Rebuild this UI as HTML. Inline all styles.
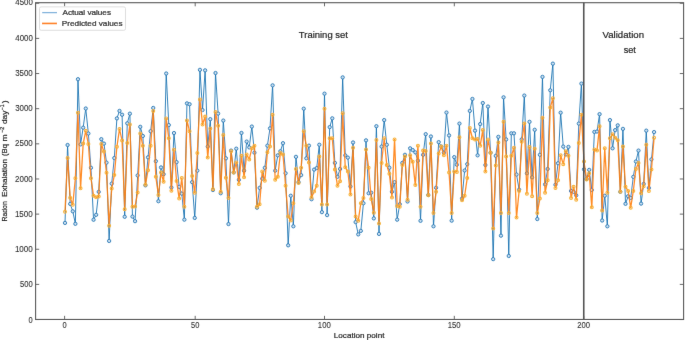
<!DOCTYPE html>
<html><head><meta charset="utf-8"><style>
html,body{margin:0;padding:0;background:#fff;width:685px;height:340px;overflow:hidden}
svg{display:block;will-change:transform}
text{font-family:"Liberation Sans", sans-serif;fill:#262626;stroke:#262626;stroke-width:0.2px}
.tk{fill:#333;stroke:#333;stroke-width:0.1px}
.lg{stroke-width:0.24px}
</style></head><body>
<svg width="685" height="340" viewBox="0 0 685 340">
<defs><filter id="bl" x="-5%" y="-5%" width="110%" height="110%"><feConvolveMatrix order="3" kernelMatrix="0.0028 0.0470 0.0028 0.0470 0.8008 0.0470 0.0028 0.0470 0.0028" edgeMode="none"/></filter></defs>
<rect x="0" y="0" width="685" height="340" fill="#fff"/>
<g filter="url(#bl)">
<path d="M65.00,222.92 L67.59,145.01 L70.19,203.90 L72.78,211.30 L75.38,223.83 L77.97,79.21 L80.57,144.44 L83.17,127.68 L85.76,108.52 L88.36,133.52 L90.95,167.76 L93.55,219.75 L96.14,214.82 L98.73,191.85 L101.33,139.16 L103.93,143.60 L106.52,162.62 L109.12,240.95 L111.71,183.61 L114.31,158.04 L116.90,118.38 L119.50,110.91 L122.09,114.72 L124.69,216.79 L127.28,123.31 L129.88,113.66 L132.47,216.58 L135.06,221.16 L137.66,175.44 L140.25,126.83 L142.85,135.99 L145.44,185.37 L148.04,157.33 L150.63,131.20 L153.23,107.95 L155.82,161.21 L158.42,201.22 L161.01,167.41 L163.61,174.24 L166.21,73.51 L168.80,125.07 L171.40,187.48 L173.99,133.03 L176.59,162.12 L179.18,186.85 L181.78,193.61 L184.37,219.68 L186.97,103.37 L189.56,104.22 L192.16,182.13 L194.75,217.92 L197.34,170.65 L199.94,69.84 L202.53,110.07 L205.13,70.34 L207.73,146.56 L210.32,119.15 L212.92,190.02 L215.51,73.01 L218.11,113.59 L220.70,193.26 L223.30,120.56 L225.89,158.32 L228.49,224.05 L231.08,150.57 L233.68,172.41 L236.27,148.67 L238.87,179.81 L241.46,132.96 L244.06,170.65 L246.65,141.56 L249.25,147.40 L251.84,126.55 L254.44,152.69 L257.03,207.70 L259.62,187.91 L262.22,178.61 L264.82,167.83 L267.41,145.64 L270.00,128.38 L272.60,85.34 L275.20,170.65 L277.79,155.36 L280.38,151.28 L282.98,143.18 L285.58,173.26 L288.17,245.32 L290.76,195.73 L293.36,226.30 L295.96,156.84 L298.55,182.13 L301.14,175.09 L303.74,108.66 L306.34,158.32 L308.93,145.64 L311.52,199.25 L314.12,169.59 L316.72,168.11 L319.31,144.73 L321.91,212.14 L324.50,93.65 L327.10,215.10 L329.69,127.11 L332.29,118.31 L334.88,162.90 L337.48,176.85 L340.07,168.96 L342.67,77.38 L345.26,155.36 L347.86,157.62 L350.45,186.50 L353.05,142.47 L355.64,222.07 L358.24,234.40 L360.83,230.88 L363.43,203.26 L366.02,140.36 L368.62,193.26 L371.21,192.70 L373.81,218.41 L376.40,126.20 L379.00,233.91 L381.59,146.56 L384.19,120.07 L386.78,144.73 L389.38,167.69 L391.97,191.78 L394.56,182.13 L397.16,219.68 L399.76,204.18 L402.35,162.90 L404.95,154.80 L407.54,201.50 L410.14,148.32 L412.73,150.08 L415.33,152.33 L417.92,160.65 L420.52,220.81 L423.11,154.80 L425.71,134.16 L428.30,195.02 L430.90,136.48 L433.49,226.30 L436.09,187.77 L438.68,142.12 L441.28,146.56 L443.87,152.69 L446.47,112.53 L449.06,135.43 L451.66,220.66 L454.25,157.12 L456.85,164.73 L459.44,123.59 L462.04,198.54 L464.63,170.51 L467.23,164.17 L469.82,110.91 L472.42,98.94 L475.01,130.64 L477.61,155.36 L480.20,124.08 L482.80,103.02 L485.39,165.01 L487.99,106.54 L490.58,152.69 L493.18,259.13 L495.77,155.86 L498.37,136.84 L500.96,235.67 L503.56,97.32 L506.15,139.44 L508.75,255.96 L511.34,133.31 L513.94,133.31 L516.53,174.52 L519.12,189.67 L521.72,139.44 L524.32,95.55 L526.91,173.33 L529.51,121.83 L532.10,177.34 L534.70,129.79 L537.29,219.04 L539.88,154.80 L542.48,76.89 L545.08,184.39 L547.67,168.96 L550.27,90.27 L552.86,63.64 L555.46,184.74 L558.05,163.25 L560.64,112.67 L563.24,146.56 L565.84,154.45 L568.43,146.91 L571.03,190.94 L573.62,191.85 L576.22,195.37 L578.81,123.59 L581.41,83.58 L584.00,169.31 L586.60,178.96 L589.19,169.87 L591.79,190.02 L594.38,131.90 L596.98,131.55 L599.57,114.15 L602.17,220.52 L604.76,195.73 L607.36,226.30 L609.95,120.07 L612.55,148.32 L615.14,130.14 L617.74,125.35 L620.33,191.78 L622.93,128.88 L625.52,203.83 L628.12,196.22 L630.71,197.98 L633.31,176.85 L635.90,161.49 L638.50,150.57 L641.09,203.62 L643.69,183.89 L646.28,130.64 L648.88,187.91 L651.47,159.38 L654.07,132.05" fill="none" stroke="#1f77b4" stroke-width="1.0" stroke-linejoin="round" opacity="0.9"/>
<g fill="#c6ddef" stroke="#2277b4" stroke-width="0.9"><circle cx="65.00" cy="222.92" r="1.65"/><circle cx="67.59" cy="145.01" r="1.65"/><circle cx="70.19" cy="203.90" r="1.65"/><circle cx="72.78" cy="211.30" r="1.65"/><circle cx="75.38" cy="223.83" r="1.65"/><circle cx="77.97" cy="79.21" r="1.65"/><circle cx="80.57" cy="144.44" r="1.65"/><circle cx="83.17" cy="127.68" r="1.65"/><circle cx="85.76" cy="108.52" r="1.65"/><circle cx="88.36" cy="133.52" r="1.65"/><circle cx="90.95" cy="167.76" r="1.65"/><circle cx="93.55" cy="219.75" r="1.65"/><circle cx="96.14" cy="214.82" r="1.65"/><circle cx="98.73" cy="191.85" r="1.65"/><circle cx="101.33" cy="139.16" r="1.65"/><circle cx="103.93" cy="143.60" r="1.65"/><circle cx="106.52" cy="162.62" r="1.65"/><circle cx="109.12" cy="240.95" r="1.65"/><circle cx="111.71" cy="183.61" r="1.65"/><circle cx="114.31" cy="158.04" r="1.65"/><circle cx="116.90" cy="118.38" r="1.65"/><circle cx="119.50" cy="110.91" r="1.65"/><circle cx="122.09" cy="114.72" r="1.65"/><circle cx="124.69" cy="216.79" r="1.65"/><circle cx="127.28" cy="123.31" r="1.65"/><circle cx="129.88" cy="113.66" r="1.65"/><circle cx="132.47" cy="216.58" r="1.65"/><circle cx="135.06" cy="221.16" r="1.65"/><circle cx="137.66" cy="175.44" r="1.65"/><circle cx="140.25" cy="126.83" r="1.65"/><circle cx="142.85" cy="135.99" r="1.65"/><circle cx="145.44" cy="185.37" r="1.65"/><circle cx="148.04" cy="157.33" r="1.65"/><circle cx="150.63" cy="131.20" r="1.65"/><circle cx="153.23" cy="107.95" r="1.65"/><circle cx="155.82" cy="161.21" r="1.65"/><circle cx="158.42" cy="201.22" r="1.65"/><circle cx="161.01" cy="167.41" r="1.65"/><circle cx="163.61" cy="174.24" r="1.65"/><circle cx="166.21" cy="73.51" r="1.65"/><circle cx="168.80" cy="125.07" r="1.65"/><circle cx="171.40" cy="187.48" r="1.65"/><circle cx="173.99" cy="133.03" r="1.65"/><circle cx="176.59" cy="162.12" r="1.65"/><circle cx="179.18" cy="186.85" r="1.65"/><circle cx="181.78" cy="193.61" r="1.65"/><circle cx="184.37" cy="219.68" r="1.65"/><circle cx="186.97" cy="103.37" r="1.65"/><circle cx="189.56" cy="104.22" r="1.65"/><circle cx="192.16" cy="182.13" r="1.65"/><circle cx="194.75" cy="217.92" r="1.65"/><circle cx="197.34" cy="170.65" r="1.65"/><circle cx="199.94" cy="69.84" r="1.65"/><circle cx="202.53" cy="110.07" r="1.65"/><circle cx="205.13" cy="70.34" r="1.65"/><circle cx="207.73" cy="146.56" r="1.65"/><circle cx="210.32" cy="119.15" r="1.65"/><circle cx="212.92" cy="190.02" r="1.65"/><circle cx="215.51" cy="73.01" r="1.65"/><circle cx="218.11" cy="113.59" r="1.65"/><circle cx="220.70" cy="193.26" r="1.65"/><circle cx="223.30" cy="120.56" r="1.65"/><circle cx="225.89" cy="158.32" r="1.65"/><circle cx="228.49" cy="224.05" r="1.65"/><circle cx="231.08" cy="150.57" r="1.65"/><circle cx="233.68" cy="172.41" r="1.65"/><circle cx="236.27" cy="148.67" r="1.65"/><circle cx="238.87" cy="179.81" r="1.65"/><circle cx="241.46" cy="132.96" r="1.65"/><circle cx="244.06" cy="170.65" r="1.65"/><circle cx="246.65" cy="141.56" r="1.65"/><circle cx="249.25" cy="147.40" r="1.65"/><circle cx="251.84" cy="126.55" r="1.65"/><circle cx="254.44" cy="152.69" r="1.65"/><circle cx="257.03" cy="207.70" r="1.65"/><circle cx="259.62" cy="187.91" r="1.65"/><circle cx="262.22" cy="178.61" r="1.65"/><circle cx="264.82" cy="167.83" r="1.65"/><circle cx="267.41" cy="145.64" r="1.65"/><circle cx="270.00" cy="128.38" r="1.65"/><circle cx="272.60" cy="85.34" r="1.65"/><circle cx="275.20" cy="170.65" r="1.65"/><circle cx="277.79" cy="155.36" r="1.65"/><circle cx="280.38" cy="151.28" r="1.65"/><circle cx="282.98" cy="143.18" r="1.65"/><circle cx="285.58" cy="173.26" r="1.65"/><circle cx="288.17" cy="245.32" r="1.65"/><circle cx="290.76" cy="195.73" r="1.65"/><circle cx="293.36" cy="226.30" r="1.65"/><circle cx="295.96" cy="156.84" r="1.65"/><circle cx="298.55" cy="182.13" r="1.65"/><circle cx="301.14" cy="175.09" r="1.65"/><circle cx="303.74" cy="108.66" r="1.65"/><circle cx="306.34" cy="158.32" r="1.65"/><circle cx="308.93" cy="145.64" r="1.65"/><circle cx="311.52" cy="199.25" r="1.65"/><circle cx="314.12" cy="169.59" r="1.65"/><circle cx="316.72" cy="168.11" r="1.65"/><circle cx="319.31" cy="144.73" r="1.65"/><circle cx="321.91" cy="212.14" r="1.65"/><circle cx="324.50" cy="93.65" r="1.65"/><circle cx="327.10" cy="215.10" r="1.65"/><circle cx="329.69" cy="127.11" r="1.65"/><circle cx="332.29" cy="118.31" r="1.65"/><circle cx="334.88" cy="162.90" r="1.65"/><circle cx="337.48" cy="176.85" r="1.65"/><circle cx="340.07" cy="168.96" r="1.65"/><circle cx="342.67" cy="77.38" r="1.65"/><circle cx="345.26" cy="155.36" r="1.65"/><circle cx="347.86" cy="157.62" r="1.65"/><circle cx="350.45" cy="186.50" r="1.65"/><circle cx="353.05" cy="142.47" r="1.65"/><circle cx="355.64" cy="222.07" r="1.65"/><circle cx="358.24" cy="234.40" r="1.65"/><circle cx="360.83" cy="230.88" r="1.65"/><circle cx="363.43" cy="203.26" r="1.65"/><circle cx="366.02" cy="140.36" r="1.65"/><circle cx="368.62" cy="193.26" r="1.65"/><circle cx="371.21" cy="192.70" r="1.65"/><circle cx="373.81" cy="218.41" r="1.65"/><circle cx="376.40" cy="126.20" r="1.65"/><circle cx="379.00" cy="233.91" r="1.65"/><circle cx="381.59" cy="146.56" r="1.65"/><circle cx="384.19" cy="120.07" r="1.65"/><circle cx="386.78" cy="144.73" r="1.65"/><circle cx="389.38" cy="167.69" r="1.65"/><circle cx="391.97" cy="191.78" r="1.65"/><circle cx="394.56" cy="182.13" r="1.65"/><circle cx="397.16" cy="219.68" r="1.65"/><circle cx="399.76" cy="204.18" r="1.65"/><circle cx="402.35" cy="162.90" r="1.65"/><circle cx="404.95" cy="154.80" r="1.65"/><circle cx="407.54" cy="201.50" r="1.65"/><circle cx="410.14" cy="148.32" r="1.65"/><circle cx="412.73" cy="150.08" r="1.65"/><circle cx="415.33" cy="152.33" r="1.65"/><circle cx="417.92" cy="160.65" r="1.65"/><circle cx="420.52" cy="220.81" r="1.65"/><circle cx="423.11" cy="154.80" r="1.65"/><circle cx="425.71" cy="134.16" r="1.65"/><circle cx="428.30" cy="195.02" r="1.65"/><circle cx="430.90" cy="136.48" r="1.65"/><circle cx="433.49" cy="226.30" r="1.65"/><circle cx="436.09" cy="187.77" r="1.65"/><circle cx="438.68" cy="142.12" r="1.65"/><circle cx="441.28" cy="146.56" r="1.65"/><circle cx="443.87" cy="152.69" r="1.65"/><circle cx="446.47" cy="112.53" r="1.65"/><circle cx="449.06" cy="135.43" r="1.65"/><circle cx="451.66" cy="220.66" r="1.65"/><circle cx="454.25" cy="157.12" r="1.65"/><circle cx="456.85" cy="164.73" r="1.65"/><circle cx="459.44" cy="123.59" r="1.65"/><circle cx="462.04" cy="198.54" r="1.65"/><circle cx="464.63" cy="170.51" r="1.65"/><circle cx="467.23" cy="164.17" r="1.65"/><circle cx="469.82" cy="110.91" r="1.65"/><circle cx="472.42" cy="98.94" r="1.65"/><circle cx="475.01" cy="130.64" r="1.65"/><circle cx="477.61" cy="155.36" r="1.65"/><circle cx="480.20" cy="124.08" r="1.65"/><circle cx="482.80" cy="103.02" r="1.65"/><circle cx="485.39" cy="165.01" r="1.65"/><circle cx="487.99" cy="106.54" r="1.65"/><circle cx="490.58" cy="152.69" r="1.65"/><circle cx="493.18" cy="259.13" r="1.65"/><circle cx="495.77" cy="155.86" r="1.65"/><circle cx="498.37" cy="136.84" r="1.65"/><circle cx="500.96" cy="235.67" r="1.65"/><circle cx="503.56" cy="97.32" r="1.65"/><circle cx="506.15" cy="139.44" r="1.65"/><circle cx="508.75" cy="255.96" r="1.65"/><circle cx="511.34" cy="133.31" r="1.65"/><circle cx="513.94" cy="133.31" r="1.65"/><circle cx="516.53" cy="174.52" r="1.65"/><circle cx="519.12" cy="189.67" r="1.65"/><circle cx="521.72" cy="139.44" r="1.65"/><circle cx="524.32" cy="95.55" r="1.65"/><circle cx="526.91" cy="173.33" r="1.65"/><circle cx="529.51" cy="121.83" r="1.65"/><circle cx="532.10" cy="177.34" r="1.65"/><circle cx="534.70" cy="129.79" r="1.65"/><circle cx="537.29" cy="219.04" r="1.65"/><circle cx="539.88" cy="154.80" r="1.65"/><circle cx="542.48" cy="76.89" r="1.65"/><circle cx="545.08" cy="184.39" r="1.65"/><circle cx="547.67" cy="168.96" r="1.65"/><circle cx="550.27" cy="90.27" r="1.65"/><circle cx="552.86" cy="63.64" r="1.65"/><circle cx="555.46" cy="184.74" r="1.65"/><circle cx="558.05" cy="163.25" r="1.65"/><circle cx="560.64" cy="112.67" r="1.65"/><circle cx="563.24" cy="146.56" r="1.65"/><circle cx="565.84" cy="154.45" r="1.65"/><circle cx="568.43" cy="146.91" r="1.65"/><circle cx="571.03" cy="190.94" r="1.65"/><circle cx="573.62" cy="191.85" r="1.65"/><circle cx="576.22" cy="195.37" r="1.65"/><circle cx="578.81" cy="123.59" r="1.65"/><circle cx="581.41" cy="83.58" r="1.65"/><circle cx="584.00" cy="169.31" r="1.65"/><circle cx="586.60" cy="178.96" r="1.65"/><circle cx="589.19" cy="169.87" r="1.65"/><circle cx="591.79" cy="190.02" r="1.65"/><circle cx="594.38" cy="131.90" r="1.65"/><circle cx="596.98" cy="131.55" r="1.65"/><circle cx="599.57" cy="114.15" r="1.65"/><circle cx="602.17" cy="220.52" r="1.65"/><circle cx="604.76" cy="195.73" r="1.65"/><circle cx="607.36" cy="226.30" r="1.65"/><circle cx="609.95" cy="120.07" r="1.65"/><circle cx="612.55" cy="148.32" r="1.65"/><circle cx="615.14" cy="130.14" r="1.65"/><circle cx="617.74" cy="125.35" r="1.65"/><circle cx="620.33" cy="191.78" r="1.65"/><circle cx="622.93" cy="128.88" r="1.65"/><circle cx="625.52" cy="203.83" r="1.65"/><circle cx="628.12" cy="196.22" r="1.65"/><circle cx="630.71" cy="197.98" r="1.65"/><circle cx="633.31" cy="176.85" r="1.65"/><circle cx="635.90" cy="161.49" r="1.65"/><circle cx="638.50" cy="150.57" r="1.65"/><circle cx="641.09" cy="203.62" r="1.65"/><circle cx="643.69" cy="183.89" r="1.65"/><circle cx="646.28" cy="130.64" r="1.65"/><circle cx="648.88" cy="187.91" r="1.65"/><circle cx="651.47" cy="159.38" r="1.65"/><circle cx="654.07" cy="132.05" r="1.65"/></g>
<path d="M65.00,211.72 L67.59,158.04 L70.19,197.70 L72.78,204.74 L75.38,178.26 L77.97,112.74 L80.57,188.33 L83.17,143.60 L85.76,130.85 L88.36,143.95 L90.95,178.26 L93.55,195.87 L96.14,197.28 L98.73,196.57 L101.33,143.95 L103.93,151.56 L106.52,172.83 L109.12,225.81 L111.71,188.54 L114.31,175.09 L116.90,146.77 L119.50,129.09 L122.09,140.43 L124.69,209.18 L127.28,143.03 L129.88,124.51 L132.47,206.86 L135.06,206.50 L137.66,192.42 L140.25,133.38 L142.85,145.71 L145.44,184.81 L148.04,170.23 L150.63,145.71 L153.23,111.12 L155.82,176.85 L158.42,195.02 L161.01,172.62 L163.61,181.85 L166.21,118.52 L168.80,138.31 L171.40,190.65 L173.99,149.73 L176.59,180.93 L179.18,198.54 L181.78,178.05 L184.37,206.79 L186.97,120.42 L189.56,131.20 L192.16,175.93 L194.75,192.70 L197.34,153.04 L199.94,99.50 L202.53,124.44 L205.13,116.55 L207.73,157.62 L210.32,128.38 L212.92,189.18 L215.51,112.04 L218.11,125.85 L220.70,191.85 L223.30,135.07 L225.89,177.69 L228.49,197.98 L231.08,151.28 L233.68,172.41 L236.27,162.41 L238.87,183.89 L241.46,155.86 L244.06,177.34 L246.65,154.45 L249.25,159.38 L251.84,148.32 L254.44,145.64 L257.03,206.79 L259.62,204.18 L262.22,171.49 L264.82,180.86 L267.41,152.33 L270.00,146.56 L272.60,114.79 L275.20,179.81 L277.79,176.85 L280.38,153.04 L282.98,154.45 L285.58,185.65 L288.17,216.51 L290.76,220.38 L293.36,203.26 L295.96,169.10 L298.55,182.98 L301.14,167.69 L303.74,131.20 L306.34,145.64 L308.93,162.41 L311.52,197.49 L314.12,191.50 L316.72,185.65 L319.31,156.56 L321.91,204.53 L324.50,108.80 L327.10,204.53 L329.69,138.24 L332.29,138.24 L334.88,169.45 L337.48,185.65 L340.07,181.22 L342.67,113.24 L345.26,167.34 L347.86,171.49 L350.45,194.46 L353.05,147.75 L355.64,216.51 L358.24,220.81 L360.83,203.26 L363.43,197.98 L366.02,149.52 L368.62,167.69 L371.21,198.90 L373.81,212.63 L376.40,140.01 L379.00,223.41 L381.59,162.90 L384.19,138.24 L386.78,165.01 L389.38,173.82 L391.97,197.49 L394.56,139.44 L397.16,205.94 L399.76,206.79 L402.35,165.01 L404.95,156.56 L407.54,199.74 L410.14,155.36 L412.73,161.84 L415.33,185.09 L417.92,145.64 L420.52,206.79 L423.11,150.57 L425.71,150.92 L428.30,195.37 L430.90,143.53 L433.49,212.99 L436.09,191.85 L438.68,153.60 L441.28,146.56 L443.87,155.36 L446.47,145.64 L449.06,172.41 L451.66,212.99 L454.25,171.49 L456.85,171.92 L459.44,137.19 L462.04,200.31 L464.63,195.73 L467.23,178.05 L469.82,127.96 L472.42,138.24 L475.01,139.44 L477.61,138.95 L480.20,145.64 L482.80,130.07 L485.39,171.49 L487.99,139.44 L490.58,152.69 L493.18,228.55 L495.77,165.44 L498.37,142.47 L500.96,212.99 L503.56,121.83 L506.15,156.56 L508.75,212.99 L511.34,155.86 L513.94,147.75 L516.53,217.42 L519.12,190.94 L521.72,141.77 L524.32,123.59 L526.91,193.75 L529.51,147.05 L532.10,196.22 L534.70,148.81 L537.29,212.99 L539.88,198.54 L542.48,117.74 L545.08,192.70 L547.67,180.37 L550.27,107.39 L552.86,98.23 L555.46,187.91 L558.05,180.37 L560.64,155.36 L563.24,164.17 L565.84,151.28 L568.43,155.86 L571.03,197.98 L573.62,186.85 L576.22,199.74 L578.81,142.96 L581.41,114.65 L584.00,161.49 L586.60,179.45 L589.19,173.33 L591.79,207.35 L594.38,149.52 L596.98,150.57 L599.57,126.20 L602.17,210.38 L604.76,148.32 L607.36,192.70 L609.95,138.24 L612.55,134.16 L615.14,137.68 L617.74,140.36 L620.33,191.78 L622.93,146.56 L625.52,186.85 L628.12,190.94 L630.71,207.70 L633.31,190.94 L635.90,168.89 L638.50,162.90 L641.09,193.26 L643.69,186.15 L646.28,144.73 L648.88,190.94 L651.47,169.45 L654.07,137.68" fill="none" stroke="#ff7f0e" stroke-width="1.3" stroke-linejoin="round" opacity="0.9"/>
<g fill="none" stroke="#f6b032" stroke-width="1.1" opacity="0.95"><circle cx="65.00" cy="211.72" r="1.45"/><circle cx="67.59" cy="158.04" r="1.45"/><circle cx="70.19" cy="197.70" r="1.45"/><circle cx="72.78" cy="204.74" r="1.45"/><circle cx="75.38" cy="178.26" r="1.45"/><circle cx="77.97" cy="112.74" r="1.45"/><circle cx="80.57" cy="188.33" r="1.45"/><circle cx="83.17" cy="143.60" r="1.45"/><circle cx="85.76" cy="130.85" r="1.45"/><circle cx="88.36" cy="143.95" r="1.45"/><circle cx="90.95" cy="178.26" r="1.45"/><circle cx="93.55" cy="195.87" r="1.45"/><circle cx="96.14" cy="197.28" r="1.45"/><circle cx="98.73" cy="196.57" r="1.45"/><circle cx="101.33" cy="143.95" r="1.45"/><circle cx="103.93" cy="151.56" r="1.45"/><circle cx="106.52" cy="172.83" r="1.45"/><circle cx="109.12" cy="225.81" r="1.45"/><circle cx="111.71" cy="188.54" r="1.45"/><circle cx="114.31" cy="175.09" r="1.45"/><circle cx="116.90" cy="146.77" r="1.45"/><circle cx="119.50" cy="129.09" r="1.45"/><circle cx="122.09" cy="140.43" r="1.45"/><circle cx="124.69" cy="209.18" r="1.45"/><circle cx="127.28" cy="143.03" r="1.45"/><circle cx="129.88" cy="124.51" r="1.45"/><circle cx="132.47" cy="206.86" r="1.45"/><circle cx="135.06" cy="206.50" r="1.45"/><circle cx="137.66" cy="192.42" r="1.45"/><circle cx="140.25" cy="133.38" r="1.45"/><circle cx="142.85" cy="145.71" r="1.45"/><circle cx="145.44" cy="184.81" r="1.45"/><circle cx="148.04" cy="170.23" r="1.45"/><circle cx="150.63" cy="145.71" r="1.45"/><circle cx="153.23" cy="111.12" r="1.45"/><circle cx="155.82" cy="176.85" r="1.45"/><circle cx="158.42" cy="195.02" r="1.45"/><circle cx="161.01" cy="172.62" r="1.45"/><circle cx="163.61" cy="181.85" r="1.45"/><circle cx="166.21" cy="118.52" r="1.45"/><circle cx="168.80" cy="138.31" r="1.45"/><circle cx="171.40" cy="190.65" r="1.45"/><circle cx="173.99" cy="149.73" r="1.45"/><circle cx="176.59" cy="180.93" r="1.45"/><circle cx="179.18" cy="198.54" r="1.45"/><circle cx="181.78" cy="178.05" r="1.45"/><circle cx="184.37" cy="206.79" r="1.45"/><circle cx="186.97" cy="120.42" r="1.45"/><circle cx="189.56" cy="131.20" r="1.45"/><circle cx="192.16" cy="175.93" r="1.45"/><circle cx="194.75" cy="192.70" r="1.45"/><circle cx="197.34" cy="153.04" r="1.45"/><circle cx="199.94" cy="99.50" r="1.45"/><circle cx="202.53" cy="124.44" r="1.45"/><circle cx="205.13" cy="116.55" r="1.45"/><circle cx="207.73" cy="157.62" r="1.45"/><circle cx="210.32" cy="128.38" r="1.45"/><circle cx="212.92" cy="189.18" r="1.45"/><circle cx="215.51" cy="112.04" r="1.45"/><circle cx="218.11" cy="125.85" r="1.45"/><circle cx="220.70" cy="191.85" r="1.45"/><circle cx="223.30" cy="135.07" r="1.45"/><circle cx="225.89" cy="177.69" r="1.45"/><circle cx="228.49" cy="197.98" r="1.45"/><circle cx="231.08" cy="151.28" r="1.45"/><circle cx="233.68" cy="172.41" r="1.45"/><circle cx="236.27" cy="162.41" r="1.45"/><circle cx="238.87" cy="183.89" r="1.45"/><circle cx="241.46" cy="155.86" r="1.45"/><circle cx="244.06" cy="177.34" r="1.45"/><circle cx="246.65" cy="154.45" r="1.45"/><circle cx="249.25" cy="159.38" r="1.45"/><circle cx="251.84" cy="148.32" r="1.45"/><circle cx="254.44" cy="145.64" r="1.45"/><circle cx="257.03" cy="206.79" r="1.45"/><circle cx="259.62" cy="204.18" r="1.45"/><circle cx="262.22" cy="171.49" r="1.45"/><circle cx="264.82" cy="180.86" r="1.45"/><circle cx="267.41" cy="152.33" r="1.45"/><circle cx="270.00" cy="146.56" r="1.45"/><circle cx="272.60" cy="114.79" r="1.45"/><circle cx="275.20" cy="179.81" r="1.45"/><circle cx="277.79" cy="176.85" r="1.45"/><circle cx="280.38" cy="153.04" r="1.45"/><circle cx="282.98" cy="154.45" r="1.45"/><circle cx="285.58" cy="185.65" r="1.45"/><circle cx="288.17" cy="216.51" r="1.45"/><circle cx="290.76" cy="220.38" r="1.45"/><circle cx="293.36" cy="203.26" r="1.45"/><circle cx="295.96" cy="169.10" r="1.45"/><circle cx="298.55" cy="182.98" r="1.45"/><circle cx="301.14" cy="167.69" r="1.45"/><circle cx="303.74" cy="131.20" r="1.45"/><circle cx="306.34" cy="145.64" r="1.45"/><circle cx="308.93" cy="162.41" r="1.45"/><circle cx="311.52" cy="197.49" r="1.45"/><circle cx="314.12" cy="191.50" r="1.45"/><circle cx="316.72" cy="185.65" r="1.45"/><circle cx="319.31" cy="156.56" r="1.45"/><circle cx="321.91" cy="204.53" r="1.45"/><circle cx="324.50" cy="108.80" r="1.45"/><circle cx="327.10" cy="204.53" r="1.45"/><circle cx="329.69" cy="138.24" r="1.45"/><circle cx="332.29" cy="138.24" r="1.45"/><circle cx="334.88" cy="169.45" r="1.45"/><circle cx="337.48" cy="185.65" r="1.45"/><circle cx="340.07" cy="181.22" r="1.45"/><circle cx="342.67" cy="113.24" r="1.45"/><circle cx="345.26" cy="167.34" r="1.45"/><circle cx="347.86" cy="171.49" r="1.45"/><circle cx="350.45" cy="194.46" r="1.45"/><circle cx="353.05" cy="147.75" r="1.45"/><circle cx="355.64" cy="216.51" r="1.45"/><circle cx="358.24" cy="220.81" r="1.45"/><circle cx="360.83" cy="203.26" r="1.45"/><circle cx="363.43" cy="197.98" r="1.45"/><circle cx="366.02" cy="149.52" r="1.45"/><circle cx="368.62" cy="167.69" r="1.45"/><circle cx="371.21" cy="198.90" r="1.45"/><circle cx="373.81" cy="212.63" r="1.45"/><circle cx="376.40" cy="140.01" r="1.45"/><circle cx="379.00" cy="223.41" r="1.45"/><circle cx="381.59" cy="162.90" r="1.45"/><circle cx="384.19" cy="138.24" r="1.45"/><circle cx="386.78" cy="165.01" r="1.45"/><circle cx="389.38" cy="173.82" r="1.45"/><circle cx="391.97" cy="197.49" r="1.45"/><circle cx="394.56" cy="139.44" r="1.45"/><circle cx="397.16" cy="205.94" r="1.45"/><circle cx="399.76" cy="206.79" r="1.45"/><circle cx="402.35" cy="165.01" r="1.45"/><circle cx="404.95" cy="156.56" r="1.45"/><circle cx="407.54" cy="199.74" r="1.45"/><circle cx="410.14" cy="155.36" r="1.45"/><circle cx="412.73" cy="161.84" r="1.45"/><circle cx="415.33" cy="185.09" r="1.45"/><circle cx="417.92" cy="145.64" r="1.45"/><circle cx="420.52" cy="206.79" r="1.45"/><circle cx="423.11" cy="150.57" r="1.45"/><circle cx="425.71" cy="150.92" r="1.45"/><circle cx="428.30" cy="195.37" r="1.45"/><circle cx="430.90" cy="143.53" r="1.45"/><circle cx="433.49" cy="212.99" r="1.45"/><circle cx="436.09" cy="191.85" r="1.45"/><circle cx="438.68" cy="153.60" r="1.45"/><circle cx="441.28" cy="146.56" r="1.45"/><circle cx="443.87" cy="155.36" r="1.45"/><circle cx="446.47" cy="145.64" r="1.45"/><circle cx="449.06" cy="172.41" r="1.45"/><circle cx="451.66" cy="212.99" r="1.45"/><circle cx="454.25" cy="171.49" r="1.45"/><circle cx="456.85" cy="171.92" r="1.45"/><circle cx="459.44" cy="137.19" r="1.45"/><circle cx="462.04" cy="200.31" r="1.45"/><circle cx="464.63" cy="195.73" r="1.45"/><circle cx="467.23" cy="178.05" r="1.45"/><circle cx="469.82" cy="127.96" r="1.45"/><circle cx="472.42" cy="138.24" r="1.45"/><circle cx="475.01" cy="139.44" r="1.45"/><circle cx="477.61" cy="138.95" r="1.45"/><circle cx="480.20" cy="145.64" r="1.45"/><circle cx="482.80" cy="130.07" r="1.45"/><circle cx="485.39" cy="171.49" r="1.45"/><circle cx="487.99" cy="139.44" r="1.45"/><circle cx="490.58" cy="152.69" r="1.45"/><circle cx="493.18" cy="228.55" r="1.45"/><circle cx="495.77" cy="165.44" r="1.45"/><circle cx="498.37" cy="142.47" r="1.45"/><circle cx="500.96" cy="212.99" r="1.45"/><circle cx="503.56" cy="121.83" r="1.45"/><circle cx="506.15" cy="156.56" r="1.45"/><circle cx="508.75" cy="212.99" r="1.45"/><circle cx="511.34" cy="155.86" r="1.45"/><circle cx="513.94" cy="147.75" r="1.45"/><circle cx="516.53" cy="217.42" r="1.45"/><circle cx="519.12" cy="190.94" r="1.45"/><circle cx="521.72" cy="141.77" r="1.45"/><circle cx="524.32" cy="123.59" r="1.45"/><circle cx="526.91" cy="193.75" r="1.45"/><circle cx="529.51" cy="147.05" r="1.45"/><circle cx="532.10" cy="196.22" r="1.45"/><circle cx="534.70" cy="148.81" r="1.45"/><circle cx="537.29" cy="212.99" r="1.45"/><circle cx="539.88" cy="198.54" r="1.45"/><circle cx="542.48" cy="117.74" r="1.45"/><circle cx="545.08" cy="192.70" r="1.45"/><circle cx="547.67" cy="180.37" r="1.45"/><circle cx="550.27" cy="107.39" r="1.45"/><circle cx="552.86" cy="98.23" r="1.45"/><circle cx="555.46" cy="187.91" r="1.45"/><circle cx="558.05" cy="180.37" r="1.45"/><circle cx="560.64" cy="155.36" r="1.45"/><circle cx="563.24" cy="164.17" r="1.45"/><circle cx="565.84" cy="151.28" r="1.45"/><circle cx="568.43" cy="155.86" r="1.45"/><circle cx="571.03" cy="197.98" r="1.45"/><circle cx="573.62" cy="186.85" r="1.45"/><circle cx="576.22" cy="199.74" r="1.45"/><circle cx="578.81" cy="142.96" r="1.45"/><circle cx="581.41" cy="114.65" r="1.45"/><circle cx="584.00" cy="161.49" r="1.45"/><circle cx="586.60" cy="179.45" r="1.45"/><circle cx="589.19" cy="173.33" r="1.45"/><circle cx="591.79" cy="207.35" r="1.45"/><circle cx="594.38" cy="149.52" r="1.45"/><circle cx="596.98" cy="150.57" r="1.45"/><circle cx="599.57" cy="126.20" r="1.45"/><circle cx="602.17" cy="210.38" r="1.45"/><circle cx="604.76" cy="148.32" r="1.45"/><circle cx="607.36" cy="192.70" r="1.45"/><circle cx="609.95" cy="138.24" r="1.45"/><circle cx="612.55" cy="134.16" r="1.45"/><circle cx="615.14" cy="137.68" r="1.45"/><circle cx="617.74" cy="140.36" r="1.45"/><circle cx="620.33" cy="191.78" r="1.45"/><circle cx="622.93" cy="146.56" r="1.45"/><circle cx="625.52" cy="186.85" r="1.45"/><circle cx="628.12" cy="190.94" r="1.45"/><circle cx="630.71" cy="207.70" r="1.45"/><circle cx="633.31" cy="190.94" r="1.45"/><circle cx="635.90" cy="168.89" r="1.45"/><circle cx="638.50" cy="162.90" r="1.45"/><circle cx="641.09" cy="193.26" r="1.45"/><circle cx="643.69" cy="186.15" r="1.45"/><circle cx="646.28" cy="144.73" r="1.45"/><circle cx="648.88" cy="190.94" r="1.45"/><circle cx="651.47" cy="169.45" r="1.45"/><circle cx="654.07" cy="137.68" r="1.45"/></g>
<line x1="583.75" y1="2.7" x2="583.75" y2="319.45" stroke="#555555" stroke-width="1.6"/>
<rect x="35.6" y="2.7" width="648.0" height="316.75" fill="none" stroke="#5a5a5a" stroke-width="1.1"/>
<path d="M35.6,319.54 h3.6 M683.6,319.54 h-3.8 M35.6,284.40 h3.6 M683.6,284.40 h-3.8 M35.6,249.25 h3.6 M683.6,249.25 h-3.8 M35.6,214.11 h3.6 M683.6,214.11 h-3.8 M35.6,178.97 h3.6 M683.6,178.97 h-3.8 M35.6,143.83 h3.6 M683.6,143.83 h-3.8 M35.6,108.68 h3.6 M683.6,108.68 h-3.8 M35.6,73.54 h3.6 M683.6,73.54 h-3.8 M35.6,38.40 h3.6 M683.6,38.40 h-3.8 M35.6,3.25 h3.6 M683.6,3.25 h-3.8 M64.60,319.45 v-3.6 M64.60,2.7 v3.6 M195.20,319.45 v-3.6 M195.20,2.7 v3.6 M324.50,319.45 v-3.6 M324.50,2.7 v3.6 M454.30,319.45 v-3.6 M454.30,2.7 v3.6 M583.75,319.45 v-3.6 M583.75,2.7 v3.6" stroke="#5a5a5a" stroke-width="0.9" fill="none"/>
<text x="28.62" y="322.70" font-size="8.3" textLength="4.16" lengthAdjust="spacingAndGlyphs" class="tk">0</text>
<text x="20.07" y="287.44" font-size="8.3" textLength="12.72" lengthAdjust="spacingAndGlyphs" class="tk">500</text>
<text x="14.90" y="252.19" font-size="8.3" textLength="17.91" lengthAdjust="spacingAndGlyphs" class="tk">1000</text>
<text x="14.90" y="216.94" font-size="8.3" textLength="17.91" lengthAdjust="spacingAndGlyphs" class="tk">1500</text>
<text x="15.10" y="181.68" font-size="8.3" textLength="17.70" lengthAdjust="spacingAndGlyphs" class="tk">2000</text>
<text x="15.10" y="146.43" font-size="8.3" textLength="17.70" lengthAdjust="spacingAndGlyphs" class="tk">2500</text>
<text x="15.20" y="111.17" font-size="8.3" textLength="17.59" lengthAdjust="spacingAndGlyphs" class="tk">3000</text>
<text x="15.20" y="75.91" font-size="8.3" textLength="17.59" lengthAdjust="spacingAndGlyphs" class="tk">3500</text>
<text x="15.30" y="40.66" font-size="8.3" textLength="17.49" lengthAdjust="spacingAndGlyphs" class="tk">4000</text>
<text x="15.30" y="5.40" font-size="8.3" textLength="17.49" lengthAdjust="spacingAndGlyphs" class="tk">4500</text>
<text x="62.52" y="327.50" font-size="8.3" textLength="4.16" lengthAdjust="spacingAndGlyphs" class="tk">0</text>
<text x="191.02" y="327.50" font-size="8.3" textLength="8.31" lengthAdjust="spacingAndGlyphs" class="tk">50</text>
<text x="317.87" y="327.50" font-size="8.3" textLength="12.97" lengthAdjust="spacingAndGlyphs" class="tk">100</text>
<text x="447.67" y="327.50" font-size="8.3" textLength="12.97" lengthAdjust="spacingAndGlyphs" class="tk">150</text>
<text x="577.32" y="327.50" font-size="8.3" textLength="12.77" lengthAdjust="spacingAndGlyphs" class="tk">200</text>
<text x="333.84" y="337.60" font-size="7.2" textLength="50.63" lengthAdjust="spacingAndGlyphs">Location point</text>
<text transform="translate(7.25,221.46) rotate(-90)" x="0" y="0" font-size="7.9" textLength="20.21" lengthAdjust="spacingAndGlyphs">Radon</text>
<text transform="translate(7.25,197.06) rotate(-90)" x="0" y="0" font-size="7.9" textLength="38.08" lengthAdjust="spacingAndGlyphs">Exhalation</text>
<text transform="translate(7.25,155.98) rotate(-90)" x="0" y="0" font-size="7.9" textLength="12.07" lengthAdjust="spacingAndGlyphs">(Bq</text>
<text transform="translate(7.25,141.49) rotate(-90)" x="0" y="0" font-size="7.9" textLength="7.15" lengthAdjust="spacingAndGlyphs">m</text>
<text transform="translate(4.30,132.87) rotate(-90)" x="0" y="0" font-size="5.6" textLength="6.16" lengthAdjust="spacingAndGlyphs">−2</text>
<text transform="translate(7.25,124.06) rotate(-90)" x="0" y="0" font-size="7.9" textLength="13.42" lengthAdjust="spacingAndGlyphs">day</text>
<text transform="translate(4.30,110.15) rotate(-90)" x="0" y="0" font-size="5.6" textLength="5.79" lengthAdjust="spacingAndGlyphs">−1</text>
<text transform="translate(7.25,103.15) rotate(-90)" x="0" y="0" font-size="7.9" textLength="2.80" lengthAdjust="spacingAndGlyphs">)</text>
<text x="298.86" y="38.00" font-size="8.9" textLength="49.00" lengthAdjust="spacingAndGlyphs">Training set</text>
<text x="602.54" y="37.80" font-size="8.9" textLength="41.55" lengthAdjust="spacingAndGlyphs">Validation</text>
<text x="623.71" y="52.50" font-size="8.9" textLength="12.17" lengthAdjust="spacingAndGlyphs">set</text>
<rect x="39.5" y="6.9" width="86" height="23.4" rx="1.6" fill="#fff" fill-opacity="0.8" stroke="#d6d6d6" stroke-width="0.8"/>
<line x1="42.2" y1="12.6" x2="57.0" y2="12.6" stroke="#7fb2db" stroke-width="1.3"/>
<line x1="42.0" y1="23.45" x2="57.0" y2="23.45" stroke="#ff7f0e" stroke-width="1.6"/>
<text x="62.45" y="15.00" font-size="7.7" textLength="48.54" lengthAdjust="spacingAndGlyphs" class="lg">Actual values</text>
<text x="61.83" y="25.60" font-size="7.7" textLength="60.67" lengthAdjust="spacingAndGlyphs" class="lg">Predicted values</text>
</g></svg></body></html>
